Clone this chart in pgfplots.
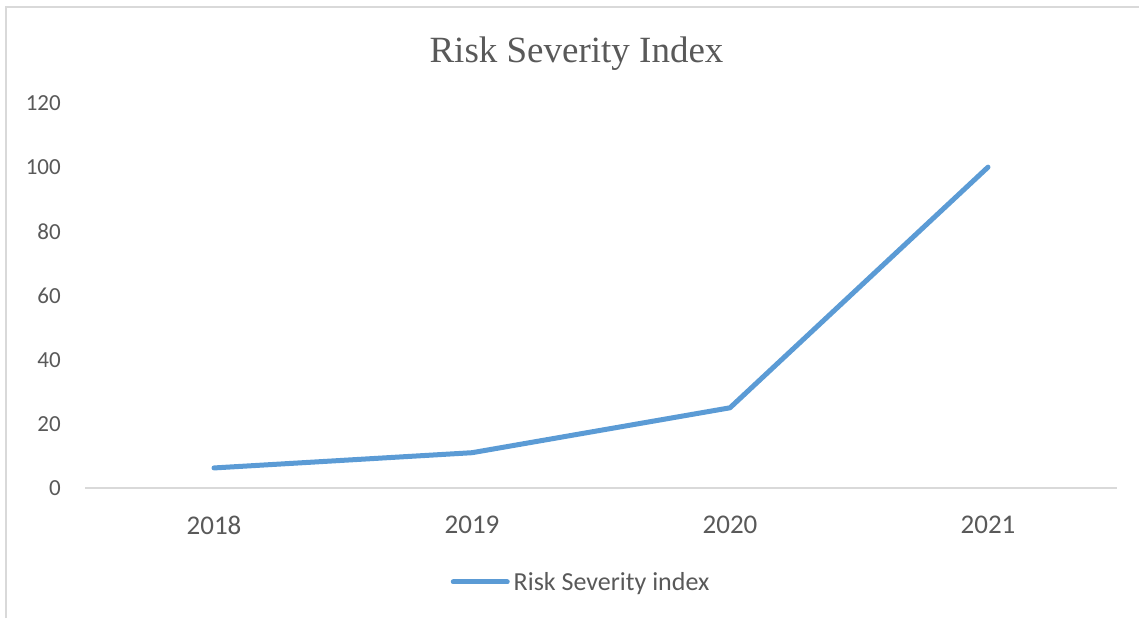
\documentclass[border=0pt]{standalone}
\usepackage{pgfplots}
\pgfplotsset{compat=1.18}
\usepackage{fontspec}
\setmainfont{Carlito}
\newfontfamily\titlefont{Liberation Serif}
\definecolor{lineblue}{HTML}{5B9BD5}
\definecolor{txtgray}{HTML}{595959}
\definecolor{framegray}{HTML}{D9D9D9}

\pgfplotstableread{
x year value
0 2018 6.25
1 2019 11
2 2020 25
3 2021 100
}\riskdata

\begin{document}
\begin{tikzpicture}
\useasboundingbox (0pt,0pt) rectangle (1139pt,618pt);
% chart frame (left and top edges)
\draw[framegray, line width=1.3pt] (6pt,0pt) -- (6pt,611pt) -- (1139pt,611pt);
% title
\node[anchor=base, text=txtgray, font=\titlefont\fontsize{37}{40}\selectfont]
  at (576.5pt,555pt) {Risk Severity Index};
\begin{axis}[
  at={(85pt,130pt)}, anchor=south west,
  scale only axis, width=1032pt, height=385pt,
  xmin=-0.5, xmax=3.5, ymin=0, ymax=120,
  xtick={0,1,2,3}, xticklabels={2018,2019,2020,2021},
  ytick={0,20,40,60,80,100,120},
  axis line style={draw=none},
  axis x line*=bottom, axis y line*=left,
  major tick length=0pt,
  tick style={draw=none},
  /pgf/number format/assume math mode=true,
  xticklabel style={font=\fontsize{27}{30}\selectfont, text=txtgray,
    anchor=center, inner sep=0pt, yshift=-37pt},
  yticklabel style={font=\fontsize{23}{26}\selectfont, text=txtgray,
    anchor=east, inner sep=0pt, xshift=-24pt},
  clip=false,
  legend style={at={(0.4797,-0.244)}, anchor=center, draw=none,
    fill=none, inner sep=0pt, column sep=4pt,
    font=\fontsize{26}{29}\selectfont, text=txtgray,
    nodes={inner sep=0pt}},
  legend image code/.code={\draw[#1] (0pt,0pt) -- (54pt,0pt);},
]
\draw[framegray, line width=1.3pt] (axis cs:-0.5,0) -- (axis cs:3.5,0);
\addplot[lineblue, line width=5pt, line cap=round, line join=round]
  table[x=x, y=value] {\riskdata};
\addlegendentry{Risk Severity index}
\end{axis}
\end{tikzpicture}
\end{document}
